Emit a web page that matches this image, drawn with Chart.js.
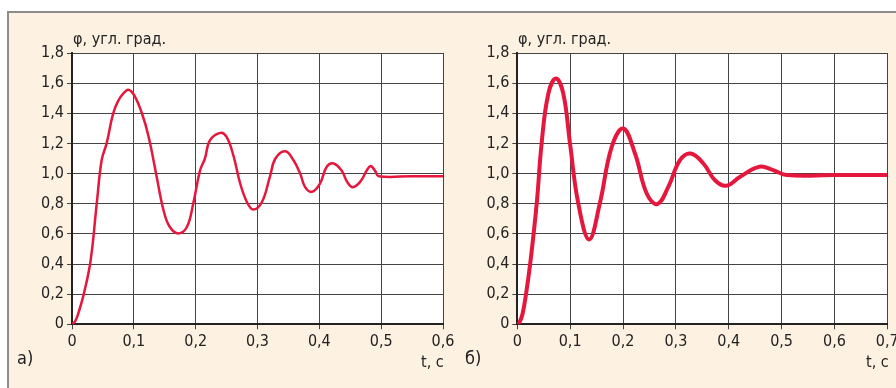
<!DOCTYPE html>
<html lang="ru">
<head>
  <meta charset="UTF-8" />
  <title>Переходный процесс</title>
  <script src="https://cdn.jsdelivr.net/npm/chart.js"></script>
  <style>
    html, body { margin: 0; padding: 0; }
    body { width: 896px; height: 388px; overflow: hidden; position: relative; background: #fff;
           font-family: 'Liberation Sans Narrow', 'DejaVu Sans Condensed', 'Roboto', sans-serif; color: #222; }
    .panel { position: absolute; left: 7px; top: 11px; width: 900px; height: 390px;
             background: #fdf1e2; border-left: 2px solid #8c8c8c; border-top: 2px solid #8c8c8c; }
    .box { position: absolute; top: 0; height: 388px; }
    .txt { position: absolute; font-size: 16px; line-height: 16px; white-space: nowrap; }
  </style>
</head>
<body>
  <div class="panel"></div>
  <div class="box" style="left:0; width:460px;"><canvas id="chartA"></canvas></div>
  <div class="box" style="left:460px; width:450px;"><canvas id="chartB"></canvas></div>

  <div class="txt" style="left:73px; top:31px;">φ, угл. град.</div>
  <div class="txt" style="left:17px; top:350px; font-size:18px;">а)</div>
  <div class="txt" style="left:421px; top:354px;">t, c</div>

  <div class="txt" style="left:518px; top:31px;">φ, угл. град.</div>
  <div class="txt" style="left:465px; top:350px; font-size:18px;">б)</div>
  <div class="txt" style="left:866px; top:354px;">t, c</div>

  <script>
    // график а)
    const timeA = [0, 0.005, 0.01, 0.019, 0.03, 0.04, 0.048, 0.056, 0.07, 0.0885, 0.099, 0.113, 0.124, 0.137,
      0.148, 0.158, 0.172, 0.186, 0.196, 0.207, 0.215, 0.223, 0.24, 0.25, 0.261, 0.272, 0.283, 0.293,
      0.307, 0.32, 0.329, 0.345, 0.358, 0.369, 0.377, 0.388, 0.401, 0.412, 0.423, 0.436, 0.445,
      0.454, 0.466, 0.482, 0.49, 0.496, 0.55, 0.6];
    const phiA = [0, 0.02, 0.07, 0.2, 0.42, 0.8, 1.09, 1.2, 1.44, 1.553, 1.53, 1.4, 1.243, 0.978,
      0.757, 0.647, 0.603, 0.647, 0.8, 1.02, 1.1, 1.22, 1.27, 1.243, 1.12, 0.934, 0.81, 0.762,
      0.81, 0.978, 1.1, 1.148, 1.09, 1.0, 0.91, 0.879, 0.934, 1.045, 1.067, 1.02, 0.945,
      0.91, 0.945, 1.049, 1.02, 0.983, 0.983, 0.983];

    // график б)
    const timeB = [0, 0.005, 0.01, 0.0165, 0.025, 0.0367, 0.046, 0.0587, 0.0732, 0.087, 0.0997, 0.1154,
      0.136, 0.156, 0.1786, 0.2005, 0.2227, 0.2448, 0.265, 0.2857, 0.3078, 0.328, 0.352, 0.374,
      0.395, 0.421, 0.458, 0.484, 0.51, 0.6, 0.7];
    const phiB = [0, 0.02, 0.07, 0.2, 0.42, 0.8, 1.2, 1.53, 1.63, 1.53, 1.2, 0.8,
      0.563, 0.8, 1.177, 1.299, 1.133, 0.868, 0.797, 0.912, 1.089, 1.133, 1.067, 0.956,
      0.919, 0.978, 1.045, 1.023, 0.99, 0.99, 0.99];

    const yTicks = [0, 0.2, 0.4, 0.6, 0.8, 1.0, 1.2, 1.4, 1.6, 1.8];
    const xTicksA = [0, 0.1, 0.2, 0.3, 0.4, 0.5, 0.6];
    const xTicksB = [0, 0.1, 0.2, 0.3, 0.4, 0.5, 0.6, 0.7];

    const fontFamily = "'Liberation Sans Narrow', 'DejaVu Sans Condensed', 'Roboto', sans-serif";
    // 0 без дробной части, остальные с одной цифрой после запятой
    const comma = v => (v === 0 ? '0' : v.toFixed(1).replace('.', ','));

    // белый фон области графика
    const whiteArea = {
      id: 'whiteArea',
      beforeDraw(chart) {
        const { ctx, chartArea: a } = chart;
        ctx.save();
        ctx.fillStyle = '#fff';
        ctx.fillRect(a.left, a.top, a.right - a.left, a.bottom - a.top);
        ctx.restore();
      }
    };

    function makeChart(id, xs, ys, ticksX, xMax, yAxisWidth, padRight, width) {
      return new Chart(document.getElementById(id), {
        type: 'line',
        data: {
          datasets: [{
            data: xs.map((t, i) => ({ x: t, y: ys[i] })),
            borderColor: '#e5173d',
            borderWidth: width,
            pointRadius: 0,
            tension: 0.4,
            fill: false
          }]
        },
        options: {
          responsive: true,
          maintainAspectRatio: false,
          animation: false,
          layout: { padding: { top: 53, right: padRight, bottom: 0, left: 0 } },
          plugins: { legend: { display: false }, tooltip: { enabled: false } },
          scales: {
            x: {
              type: 'linear',
              min: 0,
              max: xMax,
              afterBuildTicks: s => { s.ticks = ticksX.map(v => ({ value: v })); },
              afterFit: s => { s.height = 63.7; },
              grid: { color: '#444', lineWidth: 1, tickLength: 5 },
              border: { color: '#222', width: 2 },
              ticks: {
                color: '#222',
                padding: 3,
                maxRotation: 0,
                font: { family: fontFamily, size: 16 },
                callback: v => comma(v)
              }
            },
            y: {
              min: 0,
              max: 1.8,
              afterBuildTicks: s => { s.ticks = yTicks.map(v => ({ value: v })); },
              afterFit: s => { s.width = yAxisWidth; },
              grid: { color: '#444', lineWidth: 1, tickLength: 5 },
              border: { color: '#222', width: 2 },
              ticks: {
                color: '#222',
                padding: 3,
                font: { family: fontFamily, size: 16 },
                callback: v => comma(v)
              }
            }
          }
        },
        plugins: [whiteArea]
      });
    }

    makeChart('chartA', timeA, phiA, xTicksA, 0.6, 72, 17, 2.5);
    makeChart('chartB', timeB, phiB, xTicksB, 0.7, 57.3, 22.7, 4);
  </script>
</body>
</html>
